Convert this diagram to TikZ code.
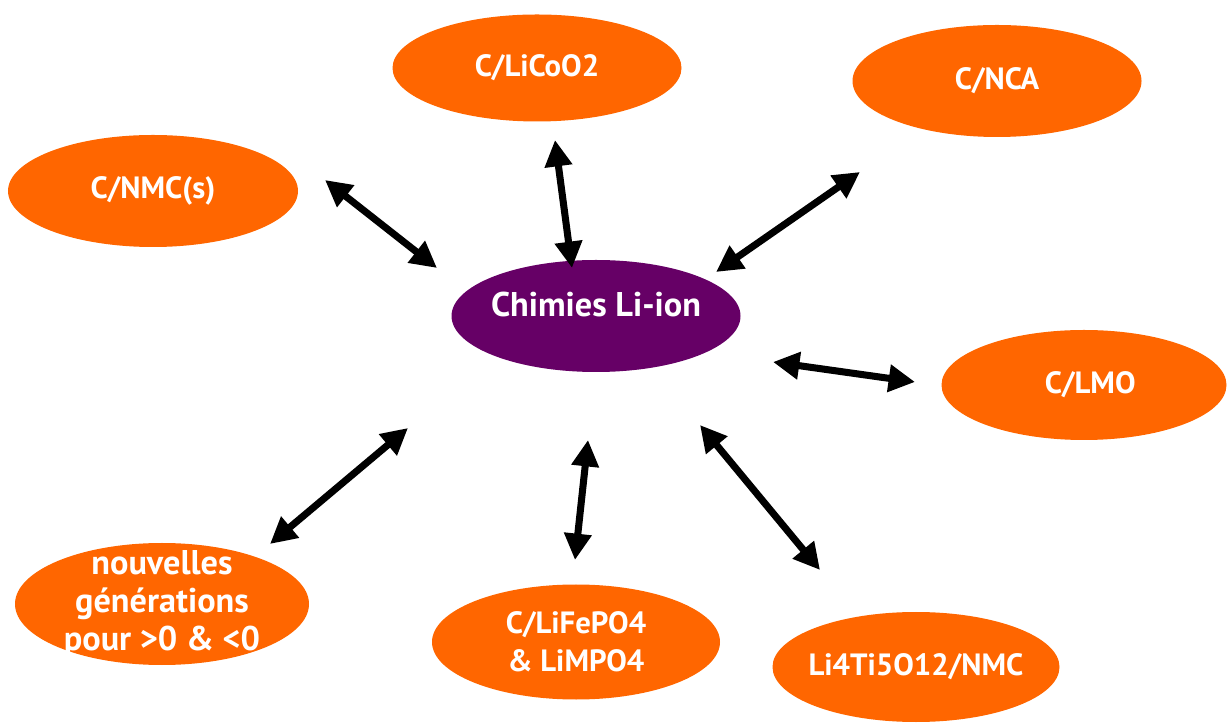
\documentclass[tikz,border=0pt]{standalone}
\usepackage{fontspec}
\setmainfont{PT Sans}
\usetikzlibrary{arrows.meta,shapes.geometric}
\definecolor{chemorange}{RGB}{255,102,0}
\definecolor{chempurple}{RGB}{102,0,102}
\begin{document}
\begin{tikzpicture}[
  chem/.style={ellipse, fill=chemorange, text=white, minimum width=5.78cm, minimum height=2.24cm,
    inner sep=-1.2cm, align=center, font=\bfseries\fontsize{17.5}{21.5}\selectfont},
  core/.style={chem, fill=chempurple},
  big/.style={font=\bfseries\fontsize{19.5}{21.5}\selectfont},
  link/.style={{Triangle[length=15pt,width=15pt]}-{Triangle[length=15pt,width=15pt]}, line width=4pt}]
\useasboundingbox (0,0) rectangle (24.54,14.52);
\node at (11.92, 8.20) (li)  [core] {};
\node at (11.92, 8.42) (litext) [text=white, big] {Chimies Li-ion};
\node at (10.74,13.16) (lco) [chem, minimum height=2.14cm] {C/LiCoO2};
\node at (19.94,12.90) (nca) [chem] {C/NCA};
\node at (3.06, 10.70) (nmc) [chem, minimum width=5.8cm] {C/NMC(s)};
\node at (21.68, 6.82) (lmo) [chem, minimum width=5.7cm, minimum height=2.2cm] {\hspace{0.25cm}C/LMO};
\node at (3.24,  2.44) (ng)  [chem, big, minimum width=5.88cm, minimum height=2.44cm] {nouvelles\\générations\\pour >0 \& <0};
\node at (11.52, 1.68) (lfp) [chem, minimum width=5.76cm, minimum height=2.3cm] {C/LiFePO4\\\& LiMPO4};
\node at (18.32, 1.18) (lto) [chem, minimum width=5.74cm, minimum height=2.2cm] {Li4Ti5O12/NMC};
\draw [link] ([shift={(3.44,0.22)}]nmc.center) -- ([shift={(-3.18,0.96)}]li.center);
\draw [link] ([shift={(0.36,-1.44)}]lco.center) -- ([shift={(-0.48,0.96)}]li.center);
\draw [link] ([shift={(-2.74,-1.82)}]nca.center) -- ([shift={(2.40,0.88)}]li.center);
\draw [link] ([shift={(3.54,-0.92)}]li.center) -- ([shift={(-3.38,0.06)}]lmo.center);
\draw [link] ([shift={(2.08,-2.18)}]li.center) -- ([shift={(-1.92,1.94)}]lto.center);
\draw [link] ([shift={(-0.16,-2.48)}]li.center) -- ([shift={(-0.02,1.64)}]lfp.center);
\draw [link] ([shift={(-3.76,-2.24)}]li.center) -- ([shift={(2.16,1.20)}]ng.center);
\end{tikzpicture}
\end{document}
